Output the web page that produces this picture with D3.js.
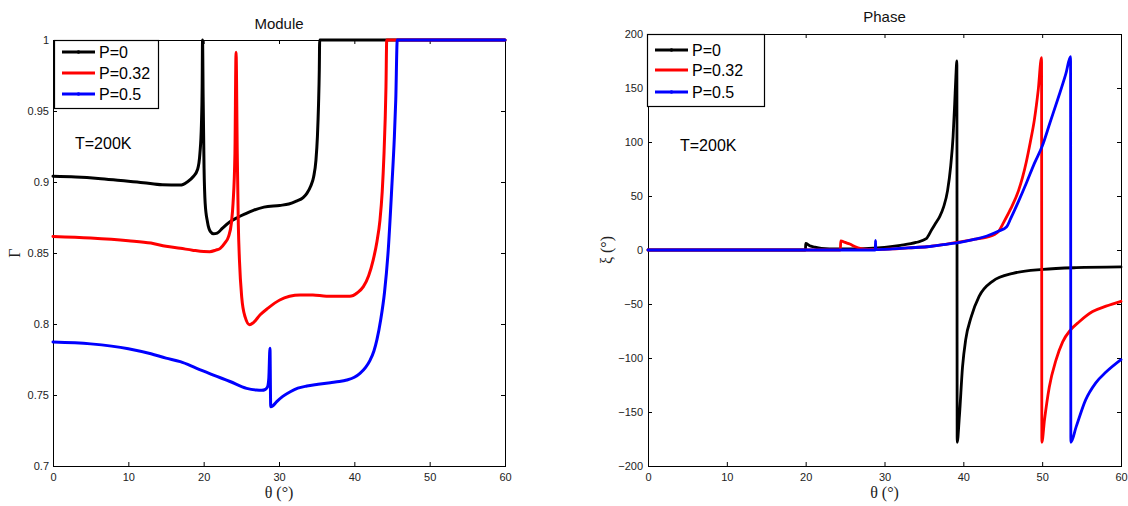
<!DOCTYPE html>
<html>
<head>
<meta charset="utf-8">
<script src="https://cdn.jsdelivr.net/npm/d3@7"></script>
<style>
  html, body { margin: 0; padding: 0; background: #fff; }
  svg { display: block; }
  text { font-family: "Liberation Sans", Arial, sans-serif; }
</style>
</head>
<body>
<svg id="chart" width="1128" height="506"></svg>
<script>
// Reflection coefficient vs incidence angle, T = 200 K
// Each series is a list of [theta (deg), value] pairs.

const seriesNames = ["P=0", "P=0.32", "P=0.5"];
const seriesColors = ["#000000", "#ff0000", "#0000ff"];

// Module |Γ|
const moduleP0 = [
  [0,0.904],[3,0.9035],[6,0.9025],[9,0.901],[12,0.8995],[14.5,0.898],[16.9,0.8978],
  [17.8,0.9],[18.6,0.9037],[19.2,0.909],[19.5,0.92],[19.7,0.94],[19.8,0.967],[19.85,1.0],
  [19.93,0.96],[20.05,0.91],[20.2,0.885],[20.5,0.872],[20.9,0.865],[21.3,0.8635],[21.8,0.864],
  [22.5,0.8675],[23.5,0.872],[24.5,0.875],[25.5,0.8775],[26.6,0.88],[28,0.8823],[30.1,0.8835],
  [31.3,0.8845],[32.3,0.8865],[33.2,0.889],[33.7,0.892],[34.2,0.897],[34.6,0.9037],[34.9,0.915],
  [35.1,0.932],[35.25,0.955],[35.35,0.979],[35.4,1.0],[60,1.0]
];
const moduleP032 = [
  [0,0.8617],[5,0.8606],[10,0.8587],[13,0.857],[15,0.8547],[16.9,0.8533],[18.5,0.852],[20,0.851],
  [20.8,0.8509],[21.6,0.852],[22.2,0.8533],[22.8,0.857],[23.3,0.8615],[23.7,0.872],[23.9,0.885],
  [24.15,0.92],[24.3,0.9913],[24.46,0.92],[24.6,0.87],[24.75,0.845],[25.05,0.819],[25.5,0.805],
  [26.1,0.7995],[26.6,0.801],[27.5,0.8065],[28.5,0.811],[30.1,0.8169],[31.4,0.8195],[32.8,0.8205],
  [34.5,0.8205],[36.3,0.8195],[38,0.8195],[39.4,0.8195],[40.4,0.822],[41.2,0.8263],[41.9,0.834],
  [42.5,0.845],[43,0.858],[43.4,0.873],[43.7,0.893],[43.94,0.92],[44.1,0.945],[44.2,0.967],
  [44.3,1.0],[60,1.0]
];
const moduleP05 = [
  [0,0.7873],[5,0.786],[10,0.7826],[13,0.779],[15,0.776],[16.9,0.7735],[19,0.769],[21.3,0.764],
  [23.5,0.7595],[25.7,0.7547],[27,0.7535],[27.7,0.7533],[28.2,0.754],[28.5,0.756],[28.65,0.762],
  [28.8,0.783],[28.9,0.7418],[29.2,0.7425],[29.7,0.7453],[30.5,0.749],[31.5,0.7523],[32.5,0.7548],
  [33.7,0.7563],[35.2,0.7575],[36.8,0.7587],[38,0.7595],[39,0.7606],[40,0.7625],[40.75,0.7653],
  [41.5,0.7695],[42.1,0.7746],[42.6,0.781],[43,0.789],[43.5,0.803],[44,0.822],[44.5,0.852],
  [45,0.899],[45.3,0.93],[45.5,0.958],[45.7,1.0],[60,1.0]
];

// Phase ξ (deg)
const phaseP0 = [
  [0,0],[19.98,0],[20.0,6],[20.5,4],[21,3],[22,1.5],[24,1],[26,1],[28,1.5],[30,2.5],[32,4.3],
  [34,7],[35.3,10.5],[36,19],[36.5,25],[37,31],[37.5,40],[38,55],[38.4,78],[38.7,105],[38.9,135],
  [39.05,160],[39.18,175],[39.22,-178],[39.5,-154],[39.9,-108],[40.3,-83],[41,-62],[42,-43],
  [43.7,-29],[46.3,-21.6],[50.1,-18],[54.3,-16.4],[60,-15.7]
];
const phaseP032 = [
  [0,0],[24.4,0],[24.45,8.5],[25,7],[25.6,5.5],[26.3,3],[26.9,1.5],[28,0.6],[29,0.5],[31,1],
  [33,2],[35.4,3],[37.5,5],[39.6,7.5],[41.5,10],[43,12],[44,14.5],[44.5,17.5],[45,24],[46,38],
  [47,55],[47.5,67],[48,82],[48.5,100],[49,120],[49.5,148],[49.92,178],[49.96,-178],[50.3,-157],
  [50.9,-127],[51.75,-102],[52.6,-85],[53.6,-74],[54.7,-66.4],[56.4,-57],[58.1,-52],[60,-47.5]
];
const phaseP05 = [
  [0,0],[28.84,0],[28.86,9],[28.9,0.3],[30,0.6],[31,1],[33,2],[35.4,3],[37.5,5],[39.6,7],
  [41.5,10],[43,13],[44.5,17.5],[45.5,21.5],[46,29],[47,45],[48,62],[49,80],[50,96],[51,118],
  [52,140],[53,163],[53.6,179],[53.64,-178],[54.3,-164],[55.5,-139],[56.8,-123],[58.1,-113],
  [60,-101.5]
];

const thetaTicks = [0, 10, 20, 30, 40, 50, 60];
const moduleTicks = [0.7, 0.75, 0.8, 0.85, 0.9, 0.95, 1];
const phaseTicks = [-200, -150, -100, -50, 0, 50, 100, 150, 200];

const svg = d3.select("#chart");

function drawPanel(opts) {
  const { left, right, top, bottom, yDomain, yTicks, yFormat, series, title, titleY,
          yLabel, yLabelX, legendBox, legendRows, noteX, noteY, lineWidth, labelPad } = opts;

  const x = d3.scaleLinear().domain([0, 60]).range([left, right]);
  const y = d3.scaleLinear().domain(yDomain).range([bottom, top]);
  const g = svg.append("g");

  // inward ticks on all four sides
  const tick = 4;
  const bottomAxis = g.append("g").attr("transform", `translate(0,${bottom})`)
    .call(d3.axisBottom(x).tickValues(thetaTicks).tickSize(-tick).tickPadding(7)
      .tickFormat(d3.format("d")));
  const topAxis = g.append("g").attr("transform", `translate(0,${top})`)
    .call(d3.axisTop(x).tickValues(thetaTicks).tickSize(-tick).tickFormat(""));
  const leftAxis = g.append("g").attr("transform", `translate(${left},0)`)
    .call(d3.axisLeft(y).tickValues(yTicks).tickSize(-tick).tickPadding(labelPad)
      .tickFormat(yFormat));
  const rightAxis = g.append("g").attr("transform", `translate(${right},0)`)
    .call(d3.axisRight(y).tickValues(yTicks).tickSize(-tick).tickFormat(""));
  [bottomAxis, topAxis, leftAxis, rightAxis].forEach(a => {
    a.select(".domain").remove();
    a.selectAll(".tick line").attr("stroke", "#000").attr("stroke-width", 1);
    a.selectAll(".tick text").attr("fill", "#222").style("font-size", "11px")
      .style("font-family", '"Liberation Sans", Arial, sans-serif');
  });

  // frame
  g.append("rect")
    .attr("x", left + 0.5).attr("y", top + 0.5)
    .attr("width", right - left).attr("height", bottom - top)
    .attr("fill", "none").attr("stroke", "#000").attr("stroke-width", 1);

  // curves
  const line = d3.line()
    .x(d => x(d[0])).y(d => y(d[1]))
    .curve(d3.curveMonotoneX);
  series.forEach((s, i) => {
    g.append("path")
      .datum(s)
      .attr("d", line)
      .attr("fill", "none")
      .attr("stroke", seriesColors[i])
      .attr("stroke-width", lineWidth)
      .attr("stroke-linejoin", "round")
      .attr("stroke-linecap", "round");
  });

  // title
  g.append("text")
    .attr("x", (left + right) / 2).attr("y", titleY)
    .attr("text-anchor", "middle")
    .style("font-size", "15px").attr("fill", "#111")
    .text(title);

  // axis labels
  g.append("text")
    .attr("x", (left + right) / 2).attr("y", 498)
    .attr("text-anchor", "middle")
    .style("font-family", '"Liberation Serif", "Times New Roman", serif')
    .style("font-size", "16px").attr("fill", "#222")
    .text("θ (°)");
  g.append("text")
    .attr("transform", `translate(${yLabelX},${(top + bottom) / 2}) rotate(-90)`)
    .attr("text-anchor", "middle")
    .style("font-family", '"Liberation Serif", "Times New Roman", serif')
    .style("font-size", "16px").attr("fill", "#222")
    .text(yLabel);

  // temperature note
  g.append("text")
    .attr("x", noteX).attr("y", noteY)
    .style("font-size", "16px").attr("fill", "#000")
    .text("T=200K");

  // legend
  const lg = g.append("g");
  lg.append("rect")
    .attr("x", legendBox.x + 0.5).attr("y", legendBox.y + 0.5)
    .attr("width", legendBox.w).attr("height", legendBox.h)
    .attr("fill", "#fff").attr("stroke", "#000").attr("stroke-width", 1.2);
  seriesNames.forEach((name, i) => {
    const ly = legendRows[i];
    lg.append("line")
      .attr("x1", legendBox.x + 8).attr("x2", legendBox.x + 41)
      .attr("y1", ly).attr("y2", ly)
      .attr("stroke", seriesColors[i]).attr("stroke-width", 3.2);
    if (i !== 1) {
      lg.append("circle")
        .attr("cx", legendBox.x + 24.5).attr("cy", ly).attr("r", 1.8)
        .attr("fill", seriesColors[i]);
    }
    lg.append("text")
      .attr("x", legendBox.x + 45).attr("y", ly + 6)
      .style("font-size", "16px").attr("fill", "#000")
      .text(name);
  });
}

drawPanel({
  left: 53, right: 505, top: 40, bottom: 466,
  yDomain: [0.7, 1], yTicks: moduleTicks,
  yFormat: d => (d === 1 ? "1" : d3.format("")(+d.toFixed(2))),
  series: [moduleP0, moduleP032, moduleP05],
  title: "Module", titleY: 29,
  yLabel: "Γ", yLabelX: 20,
  legendBox: { x: 54, y: 40, w: 104, h: 68 },
  legendRows: [52, 73, 94],
  noteX: 75, noteY: 149,
  lineWidth: 3, labelPad: 4
});

drawPanel({
  left: 648, right: 1121, top: 34, bottom: 466,
  yDomain: [-200, 200], yTicks: phaseTicks,
  yFormat: d3.format("d"),
  series: [phaseP0, phaseP032, phaseP05],
  title: "Phase", titleY: 22,
  yLabel: "ξ (°)", yLabelX: 612,
  legendBox: { x: 647, y: 34, w: 117, h: 72 },
  legendRows: [50, 70, 92],
  noteX: 680, noteY: 151,
  lineWidth: 2.8, labelPad: 5
});
</script>
</body>
</html>
